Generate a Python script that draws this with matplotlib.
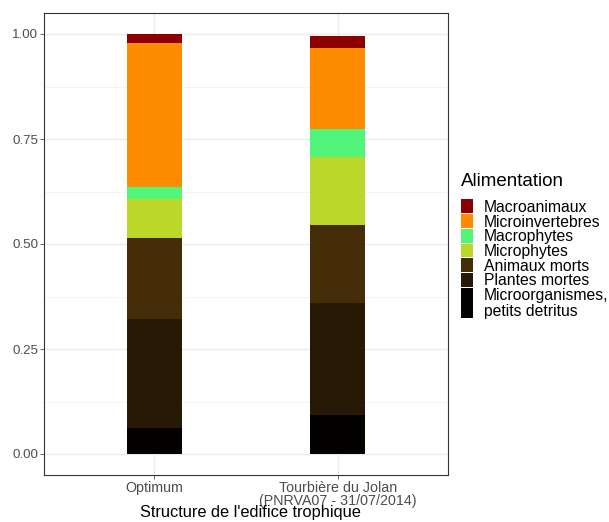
import numpy as np
import matplotlib.pyplot as plt
from matplotlib.patches import Rectangle
from matplotlib.ticker import MultipleLocator

plt.rcParams['font.family'] = ['Liberation Sans', 'DejaVu Sans']

W, H = 609, 522

sites = ['Optimum', 'Tourbière du Jolan\n(PNRVA07 - 31/07/2014)']

# categories, bottom to top of the stack
categories = ['Microorganismes,\npetits detritus', 'Plantes mortes', 'Animaux morts',
              'Microphytes', 'Macrophytes', 'Microinvertebres', 'Macroanimaux']
colors = ['#030200', '#261A06', '#452D0A', '#BAD72A', '#50F57A', '#FF8C00', '#8B0000']

optimum = [0.062, 0.259, 0.194, 0.092, 0.028, 0.344, 0.021]
jolan = [0.093, 0.266, 0.187, 0.160, 0.067, 0.194, 0.028]

values = np.array([optimum, jolan])

fig = plt.figure(figsize=(W / 100, H / 100), dpi=100)
ax = fig.add_axes([44 / W, 1 - 475 / H, 404 / W, 462 / H])

x = np.arange(1, len(sites) + 1)
bottom = np.zeros(len(sites))
for i, cat in enumerate(categories):
    ax.bar(x, values[:, i], bottom=bottom, width=0.3, color=colors[i], zorder=2)
    bottom += values[:, i]

ax.set_xlim(0.4, 2.6)
ax.set_ylim(-0.05, 1.05)
ax.set_xticks(x)
ax.set_xticklabels(sites, fontsize=10.3, color='#4D4D4D', linespacing=0.95)
ax.set_yticks([0, 0.25, 0.5, 0.75, 1.0])
ax.set_yticklabels(['0.00', '0.25', '0.50', '0.75', '1.00'], fontsize=9.6, color='#4D4D4D')
ax.yaxis.set_minor_locator(MultipleLocator(0.125))
ax.tick_params(which='major', length=3, width=0.6, color='#4D4D4D', pad=1.0)
ax.tick_params(which='minor', length=0)
ax.grid(which='major', color='#EBEBEB', linewidth=1.0, zorder=0)
ax.grid(which='minor', axis='y', color='#F2F2F2', linewidth=0.6, zorder=0)
ax.set_axisbelow(True)
for s in ax.spines.values():
    s.set_color('#333333')
    s.set_linewidth(0.8)


def px(xp, yp):
    return xp / W, 1 - yp / H


# axis title, kept just inside the bottom edge
fig.text(*px(250, 517.5), "Structure de l'edifice trophique", fontsize=11.8,
         ha='center', va='baseline')

# legend drawn by hand (ggplot style, keys stretch with multi-line labels)
fig.text(*px(461, 181), 'Alimentation', fontsize=13.5, va='center', ha='left')
row = 14.67
top = 199
for lab, col in zip(categories[::-1], colors[::-1]):
    nlines = lab.count('\n') + 1
    h = row if nlines == 1 else 31
    x0, y0 = px(461, top + h - 0.5)
    fig.add_artist(Rectangle((x0, y0), 12 / W, (h - 1) / H, transform=fig.transFigure,
                             facecolor=col, edgecolor='none'))
    fig.text(*px(484, top + h / 2 + 1), lab, fontsize=11.3, va='center', ha='left',
             linespacing=1.15)
    top += h

fig.savefig('out.png', dpi=100)
